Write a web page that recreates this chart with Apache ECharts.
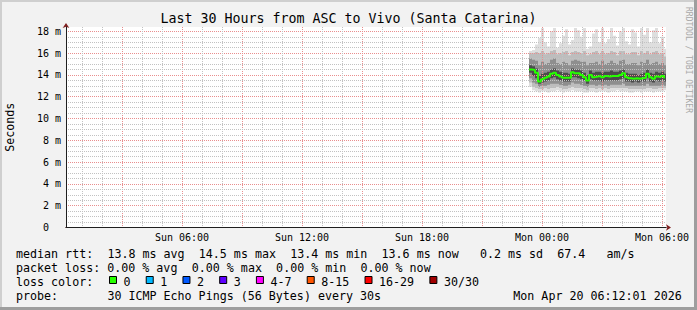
<!DOCTYPE html>
<html>
<head>
<meta charset="utf-8">
<script src="https://cdn.jsdelivr.net/npm/echarts@6/dist/echarts.min.js"></script>
<style>
html,body{margin:0;padding:0;background:#f2f2f2;}
#chart{width:697px;height:310px;}
</style>
</head>
<body>
<div id="chart"></div>
<script>
// ---------- data ----------
const titleText = 'Last 30 Hours from ASC to Vivo (Santa Catarina)';
const yAxisName = 'Seconds';
const watermarkText = 'RRDTOOL / TOBI OETIKER';

// hours counted from Sun 00:00; graph spans Sun 00:12:01 .. Mon 06:12:01
const xRange = [0.2003, 30.2003];
const xTickHours = [6, 12, 18, 24, 30];
const xTickLabels = ['Sun 06:00', 'Sun 12:00', 'Sun 18:00', 'Mon 00:00', 'Mon 06:00'];

const yRange = [0, 18.4];
const yTickValues = [0, 2, 4, 6, 8, 10, 12, 14, 16, 18];
const yTickLabels = ['0', '2 m', '4 m', '6 m', '8 m', '10 m', '12 m', '14 m', '16 m', '18 m'];

// samples: first at Sun 23:21, one every 9 minutes (values in ms)
const sampleStartHour = 23.35;
const sampleStepHour = 0.15;

const median = [14.5, 14.45, 14.2, 13.4, 13.6, 13.75, 13.85, 14.1, 14.2, 14.0,
  13.85, 13.75, 13.75, 13.75, 14.25, 14.15, 14.15, 14.0, 13.8, 13.5,
  14.0, 13.8, 13.85, 13.9, 13.8, 13.9, 13.85, 13.9, 13.9, 13.9,
  14.0, 14.15, 13.8, 13.7, 13.65, 13.7, 13.65, 13.7, 13.75, 14.1,
  13.8, 13.65, 13.85, 13.8, 13.9, 13.7];
const pingMin = [12.9, 12.6, 12.5, 12.4, 12.5, 12.5, 12.4, 12.5, 12.5, 12.6,
  12.5, 12.4, 12.5, 12.5, 12.6, 12.5, 12.5, 12.5, 12.4, 12.4,
  12.5, 12.5, 12.4, 12.5, 12.5, 12.5, 12.4, 12.5, 12.5, 12.6,
  12.5, 12.5, 12.5, 12.4, 12.4, 12.5, 12.5, 12.4, 12.5, 12.5,
  12.5, 12.4, 12.5, 12.5, 12.5, 12.6];
const ping05 = [13.3, 12.9, 12.8, 12.7, 12.7, 12.8, 12.7, 12.8, 12.8, 12.9,
  12.8, 12.7, 12.7, 12.8, 12.9, 12.8, 12.8, 12.8, 12.7, 12.6,
  12.8, 12.8, 12.7, 12.8, 12.7, 12.8, 12.7, 12.8, 12.8, 12.8,
  12.8, 12.8, 12.8, 12.7, 12.7, 12.7, 12.7, 12.7, 12.7, 12.8,
  12.8, 12.7, 12.7, 12.8, 12.8, 12.8];
const ping15 = [13.7, 13.3, 13.2, 12.9, 13.0, 13.0, 13.1, 13.2, 13.2, 13.2,
  13.1, 13.0, 13.0, 13.1, 13.3, 13.2, 13.2, 13.1, 13.0, 12.9,
  13.1, 13.1, 13.0, 13.1, 13.0, 13.1, 13.0, 13.1, 13.1, 13.1,
  13.1, 13.2, 13.0, 13.0, 13.0, 13.0, 13.0, 13.0, 13.0, 13.2,
  13.0, 13.0, 13.0, 13.0, 13.1, 13.0];
const ping35 = [14.2, 13.9, 13.7, 13.2, 13.3, 13.4, 13.5, 13.7, 13.8, 13.6,
  13.5, 13.4, 13.4, 13.4, 13.8, 13.8, 13.7, 13.6, 13.5, 13.2,
  13.6, 13.5, 13.5, 13.5, 13.4, 13.5, 13.5, 13.5, 13.5, 13.5,
  13.6, 13.7, 13.4, 13.4, 13.3, 13.4, 13.3, 13.4, 13.4, 13.7,
  13.4, 13.3, 13.5, 13.4, 13.5, 13.4];
const ping65 = [14.9, 14.8, 14.6, 13.9, 14.1, 14.2, 14.3, 14.5, 14.6, 14.4,
  14.3, 14.2, 14.2, 14.1, 14.6, 14.5, 14.5, 14.4, 14.2, 14.0,
  14.4, 14.2, 14.3, 14.3, 14.2, 14.3, 14.3, 14.4, 14.3, 14.3,
  14.4, 14.5, 14.2, 14.1, 14.1, 14.1, 14.0, 14.1, 14.2, 14.5,
  14.2, 14.1, 14.3, 14.2, 14.3, 14.1];
const ping85 = [15.5, 15.4, 15.3, 14.9, 15.2, 15.0, 15.1, 15.4, 15.5, 15.1,
  15.0, 15.2, 15.1, 14.9, 15.3, 15.4, 15.3, 15.2, 15.2, 14.9,
  15.1, 15.1, 15.2, 15.0, 15.3, 15.0, 15.1, 15.3, 15.1, 15.0,
  15.3, 15.4, 15.0, 15.0, 15.1, 15.1, 14.9, 15.2, 15.1, 15.4,
  15.0, 15.1, 15.2, 15.0, 15.1, 14.9];
const ping95 = [16.0, 16.0, 16.1, 16.0, 16.2, 15.9, 16.0, 16.2, 16.3, 15.9,
  16.0, 16.1, 16.2, 15.8, 16.1, 16.2, 16.1, 16.0, 16.2, 15.8,
  15.9, 16.1, 16.2, 15.9, 16.2, 15.9, 16.0, 16.2, 16.1, 15.8,
  16.2, 16.2, 15.9, 15.9, 16.1, 16.1, 15.8, 16.2, 16.0, 16.2,
  15.9, 16.1, 16.2, 15.9, 16.0, 15.7];
const pingMax = [16.2, 16.3, 16.8, 17.4, 18.3, 17.0, 16.6, 18.0, 18.3, 16.5,
  16.9, 17.6, 18.2, 16.8, 17.2, 18.3, 18.1, 17.5, 18.3, 16.4,
  16.6, 17.8, 18.2, 17.0, 18.3, 16.9, 17.3, 18.3, 17.6, 16.7,
  18.0, 18.3, 17.1, 16.8, 18.2, 17.9, 16.6, 18.3, 17.7, 18.3,
  17.0, 18.1, 18.3, 16.9, 17.5, 16.4];

const legendRows = [
  'median rtt:  13.8 ms avg  14.5 ms max  13.4 ms min  13.6 ms now   0.2 ms sd  67.4   am/s',
  'packet loss: 0.00 % avg  0.00 % max  0.00 % min  0.00 % now',
  'loss color:',
  'probe:       30 ICMP Echo Pings (56 Bytes) every 30s'
];
const stampText = 'Mon Apr 20 06:12:01 2026';
const lossLabels = ['0', '1', '2', '3', '4-7', '8-15', '16-29', '30/30'];
const lossColors = ['#26ff00', '#00b8ff', '#0059ff', '#5e00ff', '#ff00ff', '#ff5500', '#ff0000', '#a10000'];

// ---------- presentation ----------
const MONO = 'DejaVu Sans Mono';
const CW = 7.03;          // legend character advance
const minorGrid = '#c2c2c2';
const majorGrid = '#e98e8e';
const axisColor = '#1f1f1f';
const arrowColor = '#801f1f';

const times = median.map((_, i) => sampleStartHour + i * sampleStepHour);

// grid line positions (hourly / 3-hourly, 0.5 m / 2 m)
const xMinor = [], xMajor = [];
for (let h = 1; h <= 30; h++) (h % 3 === 0 ? xMajor : xMinor).push(h);
const yMinor = [], yMajor = [];
for (let v = 0.5; v <= 18; v += 0.5) (v % 2 === 0 ? yMajor : yMinor).push(v);

// one smoke band = a column per sample spanning [lower, upper]
function band(name, lo, hi, color) {
  return {
    type: 'custom', name: name, silent: true, z: 1, clip: true,
    data: lo.map((v, i) => [times[i], v, hi[i]]),
    encode: { x: 0, y: [1, 2] },
    renderItem: (params, api) => {
      const t = api.value(0);
      const a = api.coord([t, api.value(2)]);
      const b = api.coord([t + sampleStepHour, api.value(1)]);
      const x1 = Math.round(a[0]), x2 = Math.round(b[0]);
      return { type: 'rect', shape: { x: x1, y: a[1], width: x2 - x1, height: b[1] - a[1] },
               style: { fill: color } };
    }
  };
}

const series = [
  band('smoke1', pingMin, pingMax, '#dedede'),
  band('smoke2', ping05, ping95, '#bdbdbd'),
  band('smoke3', ping15, ping85, '#8e8e8e'),
  band('smoke4', ping35, ping65, '#4c4c4c'),
  { type: 'line', name: 'median rtt', step: 'end', symbol: 'none', silent: true, z: 5,
    data: median.map((v, i) => [times[i], v]),
    lineStyle: { color: lossColors[0], width: 2 } }
];

// legend / footer graphics
const rowY = [254.3, 268.2, 282.1, 296];
const graphics = [];
// 3D frame of the rrdtool image
graphics.push({ type: 'rect', shape: { x: 0, y: 0, width: 697, height: 2 }, style: { fill: '#cfcfcf' }, z: -10, silent: true });
graphics.push({ type: 'rect', shape: { x: 0, y: 0, width: 2, height: 310 }, style: { fill: '#cfcfcf' }, z: -10, silent: true });
graphics.push({ type: 'rect', shape: { x: 694, y: 0, width: 3, height: 310 }, style: { fill: '#9e9e9e' }, z: -10, silent: true });
graphics.push({ type: 'rect', shape: { x: 0, y: 307, width: 697, height: 3 }, style: { fill: '#9e9e9e' }, z: -10, silent: true });

legendRows.forEach((row, r) => {
  const re = /\S+(?: \S+)*/g;
  let m;
  while ((m = re.exec(row)) !== null) {
    graphics.push({ type: 'text', silent: true, x: 16 + m.index * CW, y: rowY[r],
      style: { text: m[0], fontFamily: MONO, fontSize: 11.67, fill: '#000', align: 'left', verticalAlign: 'middle' } });
  }
});
graphics.push({ type: 'text', silent: true, x: 513.3, y: rowY[3],
  style: { text: stampText, fontFamily: MONO, fontSize: 11.67, fill: '#000', align: 'left', verticalAlign: 'middle' } });

let lx = 109.5;
lossLabels.forEach((lab, i) => {
  graphics.push({ type: 'rect', silent: true, shape: { x: lx, y: 276.5, width: 7, height: 7 },
    style: { fill: lossColors[i], stroke: '#000', lineWidth: 1 } });
  graphics.push({ type: 'text', silent: true, x: lx + 14, y: rowY[2],
    style: { text: lab, fontFamily: MONO, fontSize: 11.67, fill: '#000', align: 'left', verticalAlign: 'middle' } });
  lx += 14 + lab.length * CW + 15.7;
});

graphics.push({ type: 'text', silent: true, x: 688.5, y: 60, rotation: -Math.PI / 2,
  style: { text: watermarkText, fontFamily: MONO, fontSize: 8, fill: '#a8a8a8', align: 'center', verticalAlign: 'middle' } });

const chart = echarts.init(document.getElementById('chart'), null, { renderer: 'svg' });
chart.setOption({
  animation: false,
  backgroundColor: '#f2f2f2',
  textStyle: { fontFamily: MONO },
  title: {
    text: titleText, left: 'center', top: 7, padding: 5,
    textStyle: { fontFamily: MONO, fontSize: 13.3, fontWeight: 'normal', color: '#000' }
  },
  grid: {
    left: 66, right: 31, top: 27, bottom: 82.5,
    show: true, backgroundColor: '#ffffff', borderWidth: 0,
    containLabel: false, outerBoundsMode: 'none'
  },
  xAxis: [
    { type: 'value', min: xRange[0], max: xRange[1], position: 'bottom', z: 3,
      axisLine: { show: true, onZero: false, lineStyle: { color: axisColor, width: 1 } },
      axisTick: { show: false, customValues: xMinor },
      axisLabel: { show: true, customValues: xTickHours, margin: 5,
        formatter: v => { const k = xTickHours.indexOf(v); return k >= 0 ? xTickLabels[k] : ''; },
        fontFamily: MONO, fontSize: 10, color: '#000' },
      splitLine: { show: true, lineStyle: { color: minorGrid, type: 'dotted', width: 1 } } },
    { type: 'value', min: xRange[0], max: xRange[1], position: 'bottom', z: 2,
      axisLine: { show: true, onZero: false, symbol: ['none', 'arrow'], symbolSize: [5, 5], symbolOffset: [0, 5],
        lineStyle: { color: arrowColor, width: 1 } },
      axisTick: { show: false, customValues: xMajor },
      axisLabel: { show: false },
      splitLine: { show: true, lineStyle: { color: majorGrid, type: 'dotted', width: 1 } } }
  ],
  yAxis: [
    { type: 'value', min: yRange[0], max: yRange[1], position: 'left', z: 3,
      name: yAxisName, nameLocation: 'middle', nameRotate: 90, nameGap: 50,
      nameTextStyle: { fontFamily: MONO, fontSize: 11.67, color: '#000' },
      axisLine: { show: true, onZero: false, lineStyle: { color: axisColor, width: 1 } },
      axisTick: { show: false, customValues: yMinor },
      axisLabel: { show: true, customValues: yTickValues, margin: 5,
        formatter: v => { const k = yTickValues.indexOf(v); if (k < 0) return ''; const s = yTickLabels[k]; return s.indexOf(' ') < 0 ? s + '\u00a0\u00a0' : s; },
        fontFamily: MONO, fontSize: 10, color: '#000' },
      splitLine: { show: true, lineStyle: { color: minorGrid, type: 'dotted', width: 1 } } },
    { type: 'value', min: yRange[0], max: yRange[1], position: 'left', z: 2,
      axisLine: { show: true, onZero: false, symbol: ['none', 'arrow'], symbolSize: [5, 5], symbolOffset: [0, 4],
        lineStyle: { color: arrowColor, width: 1 } },
      axisTick: { show: false, customValues: yMajor },
      axisLabel: { show: false },
      splitLine: { show: true, lineStyle: { color: majorGrid, type: 'dotted', width: 1 } } }
  ],
  series: series,
  graphic: graphics
});
</script>
</body>
</html>
